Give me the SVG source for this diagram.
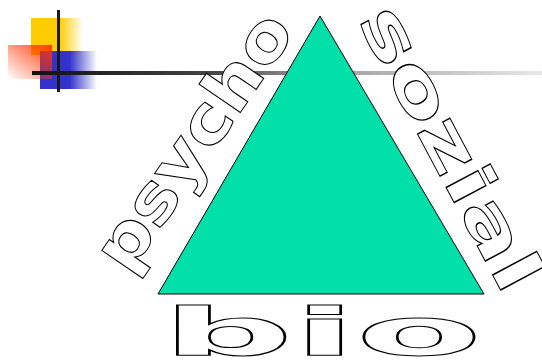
<svg xmlns="http://www.w3.org/2000/svg" width="542" height="360" viewBox="0 0 542 360">
<defs>
<linearGradient id="gy" x1="0" y1="0" x2="1" y2="0"><stop offset="0" stop-color="#FFCC00"/><stop offset="0.55" stop-color="#FFCC00"/><stop offset="1" stop-color="#FFCC00" stop-opacity="0"/></linearGradient>
<linearGradient id="gb" x1="0" y1="0" x2="1" y2="0"><stop offset="0" stop-color="#3333CC"/><stop offset="0.52" stop-color="#3333CC"/><stop offset="1" stop-color="#3333CC" stop-opacity="0"/></linearGradient>
<linearGradient id="gr" x1="1" y1="0" x2="0" y2="1"><stop offset="0" stop-color="#FF3300" stop-opacity="0.95"/><stop offset="1" stop-color="#FF3300" stop-opacity="0"/></linearGradient>
<linearGradient id="gl" x1="0" y1="0" x2="1" y2="0"><stop offset="0" stop-color="#111"/><stop offset="0.35" stop-color="#444"/><stop offset="0.55" stop-color="#999"/><stop offset="1" stop-color="#e8e8e8"/></linearGradient>
</defs>
<style>
.w{font-family:"DejaVu Sans",sans-serif;font-weight:bold;font-size:66px;fill:#fff;stroke:#000;stroke-width:1}
</style>
<g id="decoration">
<rect x="31" y="18" width="52" height="37" fill="url(#gy)"/>
<rect x="40" y="51" width="57" height="38" fill="url(#gb)"/>
<rect x="8" y="45" width="44" height="34" fill="url(#gr)"/>
<rect x="57" y="10" width="3" height="82" fill="#1a1a1a"/>
<rect x="32" y="71" width="510" height="4" fill="url(#gl)"/>
</g>
<g id="triangle">
<polygon points="320,16 158,294 484,294" fill="#00E0A8" stroke="#000" stroke-width="1"/>
</g>
<g id="psycho">
<text class="w" transform="translate(128,276) rotate(-55.5)" x="0" y="0" textLength="297" lengthAdjust="spacingAndGlyphs">psycho</text>
</g>
<g id="sozial">
<text class="w" transform="translate(357,20) rotate(62)" x="0" y="0" textLength="314" lengthAdjust="spacingAndGlyphs">sozial</text>
</g>
<g id="bio">
<text class="w" x="162" y="355" textLength="320" lengthAdjust="spacingAndGlyphs">bio</text>
</g>
</svg>
